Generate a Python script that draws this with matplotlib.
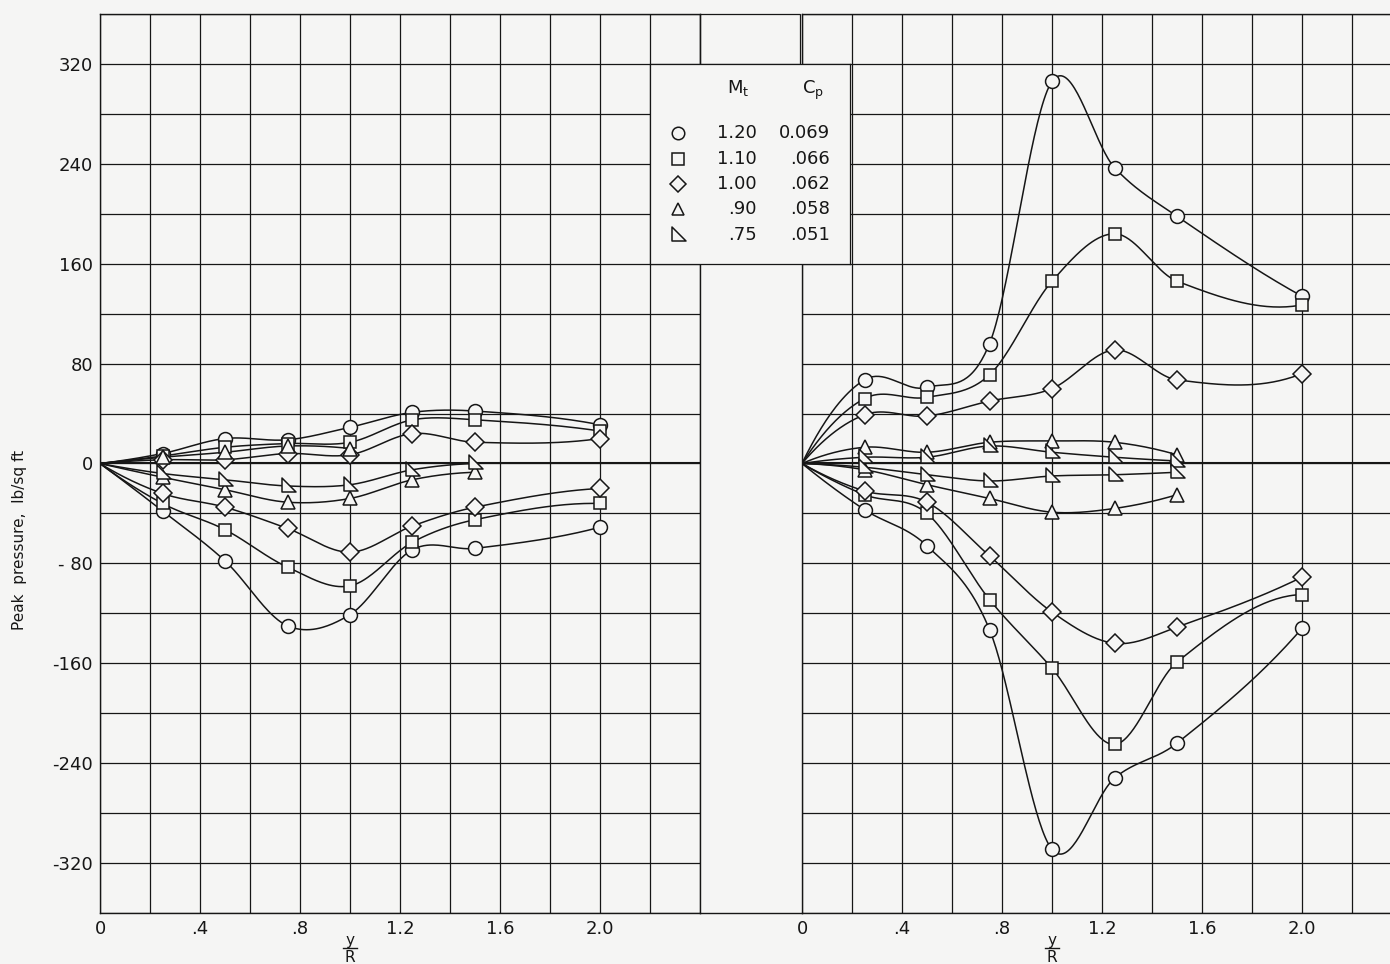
import numpy as np
import matplotlib
matplotlib.use("Agg")
import matplotlib.pyplot as plt
from matplotlib.path import Path
from matplotlib.patches import Rectangle
from matplotlib.lines import Line2D

# y/R stations
x_full = [0, 0.25, 0.5, 0.75, 1.0, 1.25, 1.5, 2.0]
x_short = [0, 0.25, 0.5, 0.75, 1.0, 1.25, 1.5]
x_tri_up = [0, 0.25, 0.5, 0.75, 1.0]

# left panel, peak pressure lb/sq ft
left_circle_up = [0, 8, 20, 19, 29, 41, 42, 31]
left_circle_lo = [0, -38, -78, -130, -121, -69, -68, -51]
left_square_up = [0, 6, 13, 16, 17, 35, 35, 26]
left_square_lo = [0, -32, -53, -83, -98, -63, -45, -32]
left_diamond_up = [0, 3, 3, 8, 7, 24, 17, 20]
left_diamond_lo = [0, -24, -35, -52, -71, -50, -35, -20]
left_tri_up = [0, 5, 9, 14, 12]
left_tri_lo = [0, -11, -21, -31, -28, -13, -7]
left_rtri_lo = [0, -8, -13, -18, -17, -5, 0]

# right panel
right_circle_up = [0, 67, 61, 96, 306, 237, 198, 134]
right_circle_lo = [0, -37, -66, -133, -309, -252, -224, -132]
right_square_up = [0, 52, 53, 71, 146, 184, 146, 127]
right_square_lo = [0, -25, -40, -109, -164, -225, -159, -105]
right_diamond_up = [0, 39, 38, 50, 60, 91, 67, 72]
right_diamond_lo = [0, -22, -31, -74, -119, -144, -131, -91]
right_tri_up = [0, 13, 9, 17, 18, 17, 7]
right_tri_lo = [0, -5, -17, -28, -39, -36, -25]
right_rtri_up = [0, 5, 5, 14, 9, 5, 2]
right_rtri_lo = [0, -3, -9, -14, -10, -9, -7]

mach = ["1.20", "1.10", "1.00", ".90", ".75"]
cp = ["0.069", ".066", ".062", ".058", ".051"]

# plot settings
bg = "#f5f5f4"
ink = "#161616"
plt.rcParams["font.family"] = "DejaVu Sans"

rtri = Path([(-0.55, 0.75), (-0.55, -0.55), (0.75, -0.55), (-0.55, 0.75)],
            [Path.MOVETO, Path.LINETO, Path.LINETO, Path.CLOSEPOLY])
markers = {"circle": "o", "square": "s", "diamond": "D", "tri": "^", "rtri": rtri}
msizes = {"circle": 10, "square": 9, "diamond": 9, "tri": 10, "rtri": 12}


def smooth(xs, ys, n=40):
    # faired curve: cubic Hermite with centred-difference slopes
    x = np.asarray(xs, float)
    y = np.asarray(ys, float)
    k = len(x)
    h = np.diff(x)
    s = np.diff(y) / h
    d = np.zeros(k)
    for i in range(1, k - 1):
        d[i] = (y[i + 1] - y[i - 1]) / (x[i + 1] - x[i - 1])
    d[0] = ((2 * h[0] + h[1]) * s[0] - h[0] * s[1]) / (h[0] + h[1])
    d[-1] = ((2 * h[-1] + h[-2]) * s[-1] - h[-1] * s[-2]) / (h[-1] + h[-2])
    px, py = [], []
    for i in range(k - 1):
        t = np.linspace(0, 1, n)
        h00 = 2 * t ** 3 - 3 * t ** 2 + 1
        h10 = t ** 3 - 2 * t ** 2 + t
        h01 = -2 * t ** 3 + 3 * t ** 2
        h11 = t ** 3 - t ** 2
        px.append(x[i] + t * h[i])
        py.append(h00 * y[i] + h10 * h[i] * d[i] + h01 * y[i + 1] + h11 * h[i] * d[i + 1])
    return np.concatenate(px), np.concatenate(py)


def curve(ax, xs, ys, kind):
    sx, sy = smooth(xs, ys)
    ax.plot(sx, sy, color=ink, lw=1.1, zorder=3)
    ax.plot(xs[1:], ys[1:], ls="none", marker=markers[kind], ms=msizes[kind],
            mfc=bg, mec=ink, mew=1.1, zorder=4)


def setup(ax, xmax, labels_y):
    ax.set_facecolor("none")
    ax.set_xlim(0, xmax)
    ax.set_ylim(-360, 360)
    xt = np.arange(0, xmax + 0.001, 0.2)
    ax.set_xticks(xt)
    xl = {0: "0", 2: ".4", 4: ".8", 6: "1.2", 8: "1.6", 10: "2.0"}
    ax.set_xticklabels([xl.get(i, "") for i in range(len(xt))])
    yt = np.arange(-360, 361, 40)
    ax.set_yticks(yt)
    if labels_y:
        yl = {320: "320", 240: "240", 160: "160", 80: "80", 0: "0",
              -80: "- 80", -160: "-160", -240: "-240", -320: "-320"}
        ax.set_yticklabels([yl.get(int(v), "") for v in yt])
    else:
        ax.set_yticklabels([])
    ax.tick_params(length=0, labelsize=13, colors=ink, pad=5)
    ax.grid(True, color=ink, lw=0.9)
    ax.axhline(0, color=ink, lw=1.5, zorder=2)
    for s in ax.spines.values():
        s.set_color(ink)
        s.set_linewidth(1.0)


fig = plt.figure(figsize=(13.9, 9.64), dpi=100, facecolor=bg)
W, H = 1390.0, 964.0

axL = fig.add_axes([100 / W, 1 - 913 / H, 600 / W, 899 / H])
axR = fig.add_axes([802 / W, 1 - 913 / H, 588 / W, 899 / H])
setup(axL, 2.4, True)
setup(axR, 2.352, False)
axR.spines["right"].set_visible(False)

curve(axL, x_full, left_circle_up, "circle")
curve(axL, x_full, left_circle_lo, "circle")
curve(axL, x_full, left_square_up, "square")
curve(axL, x_full, left_square_lo, "square")
curve(axL, x_full, left_diamond_up, "diamond")
curve(axL, x_full, left_diamond_lo, "diamond")
curve(axL, x_tri_up, left_tri_up, "tri")
curve(axL, x_short, left_tri_lo, "tri")
curve(axL, x_short, left_rtri_lo, "rtri")

curve(axR, x_full, right_circle_up, "circle")
curve(axR, x_full, right_circle_lo, "circle")
curve(axR, x_full, right_square_up, "square")
curve(axR, x_full, right_square_lo, "square")
curve(axR, x_full, right_diamond_up, "diamond")
curve(axR, x_full, right_diamond_lo, "diamond")
curve(axR, x_short, right_tri_up, "tri")
curve(axR, x_short, right_tri_lo, "tri")
curve(axR, x_short, right_rtri_up, "rtri")
curve(axR, x_short, right_rtri_lo, "rtri")

# y/R labels under each panel, written as a stacked fraction
for ax in (axL, axR):
    xc = ax.transData.transform((1.0, 0))[0] / W
    fig.text(xc, 1 - 945 / H, "y", ha="center", va="baseline", fontsize=11, color=ink)
    fig.text(xc, 1 - 950 / H, "R", ha="center", va="top", fontsize=11, color=ink)
    fig.add_artist(Line2D([xc - 7 / W, xc + 7 / W], [1 - 948 / H] * 2,
                          transform=fig.transFigure, color=ink, lw=1.0))

# frame in the gap between the panels
fig.add_artist(Rectangle((700 / W, 1 - 64 / H), 100 / W, 50 / H, transform=fig.transFigure,
                         fill=False, ec=ink, lw=0.9))
fig.add_artist(Line2D([700 / W, 802 / W], [1 - 913 / H, 1 - 913 / H], transform=fig.transFigure,
                      color=ink, lw=1.0))

# key box
axK = fig.add_axes([650 / W, 1 - 264 / H, 200 / W, 200 / H])
axK.set_zorder(6)
axK.set_facecolor(bg)
axK.set_xlim(650, 850)
axK.set_ylim(264, 64)
axK.set_xticks([])
axK.set_yticks([])
for s in axK.spines.values():
    s.set_color(ink)
    s.set_linewidth(0.9)
axK.text(738, 88, r"M$_\mathregular{t}$", ha="center", va="center", fontsize=13, color=ink)
axK.text(813, 90, r"C$_\mathregular{p}$", ha="center", va="center", fontsize=13, color=ink)
rows = [133, 159, 184, 209, 235]
for kind, m, c, ry in zip(["circle", "square", "diamond", "tri", "rtri"], mach, cp, rows):
    axK.plot([678], [ry], ls="none", marker=markers[kind], ms=msizes[kind] - 1,
             mfc=bg, mec=ink, mew=1.1)
    axK.text(757, ry, m, ha="right", va="center", fontsize=13, color=ink)
    axK.text(830, ry, c, ha="right", va="center", fontsize=13, color=ink)

fig.text(20 / W, 1 - 540 / H, "Peak  pressure,  lb/sq ft", rotation=90,
         ha="center", va="center", fontsize=11, color=ink)

fig.savefig("out.png", dpi=100, facecolor=bg)
